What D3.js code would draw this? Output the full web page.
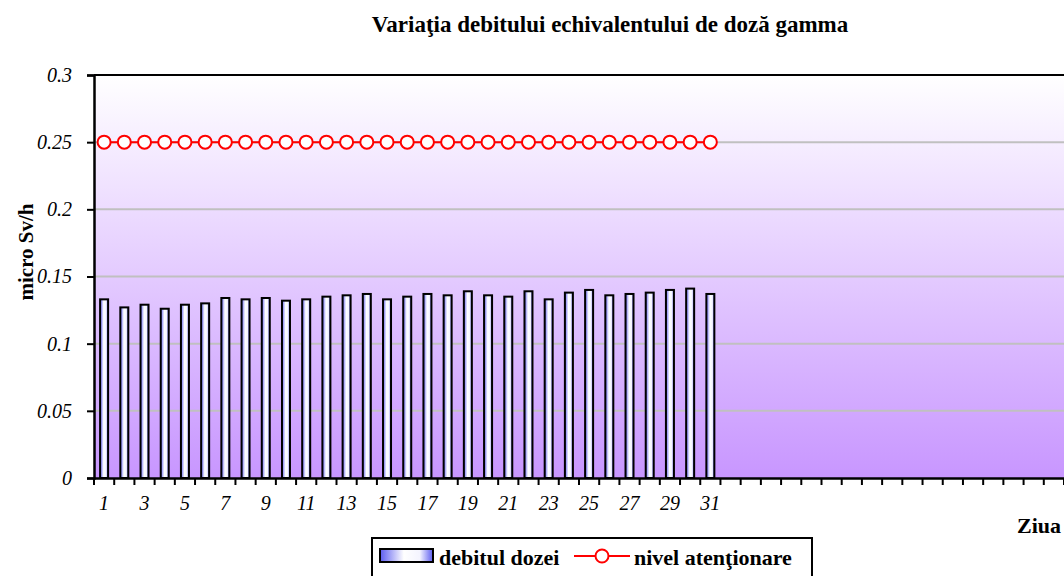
<!DOCTYPE html>
<html>
<head>
<meta charset="utf-8">
<script src="https://d3js.org/d3.v7.min.js"></script>
<style>
  html, body { margin: 0; padding: 0; background: #fff; }
  svg { display: block; font-family: "Liberation Serif", "Times New Roman", serif; }
</style>
</head>
<body>
<div id="chart"></div>
<script>
// zilele lunii (axa are 48 de categorii, doar primele 31 au date)
const days = d3.range(1, 49);
const doseDays = d3.range(1, 32);
const doseRate = [0.133, 0.127, 0.129, 0.126, 0.129, 0.130, 0.134, 0.133, 0.134, 0.132,
                  0.133, 0.135, 0.136, 0.137, 0.133, 0.135, 0.137, 0.136, 0.139, 0.136,
                  0.135, 0.139, 0.133, 0.138, 0.140, 0.136, 0.137, 0.138, 0.140, 0.141, 0.137];
const alertLevel = doseDays.map(() => 0.25);
const yTicks = [0, 0.05, 0.1, 0.15, 0.2, 0.25, 0.3];
const xLabels = d3.range(1, 32, 2);

const W = 1064, H = 576;
const margin = {top: 75, right: 0, bottom: 98, left: 94};
const width = W - margin.left - margin.right;
const height = H - margin.top - margin.bottom;
const serif = "'Liberation Serif', 'Times New Roman', serif";

const svg = d3.select("#chart").append("svg")
    .attr("width", W).attr("height", H);

const defs = svg.append("defs");
const bg = defs.append("linearGradient").attr("id", "bg")
    .attr("x1", 0).attr("y1", 0).attr("x2", 0).attr("y2", 1);
bg.append("stop").attr("offset", "0%").attr("stop-color", "#ffffff");
bg.append("stop").attr("offset", "100%").attr("stop-color", "#c896ff");

const barGrad = defs.append("linearGradient").attr("id", "barGrad")
    .attr("x1", 0).attr("y1", 0).attr("x2", 1).attr("y2", 0);
barGrad.append("stop").attr("offset", "0%").attr("stop-color", "#5c5cf0");
barGrad.append("stop").attr("offset", "45%").attr("stop-color", "#ffffff");
barGrad.append("stop").attr("offset", "75%").attr("stop-color", "#f4f4ff");
barGrad.append("stop").attr("offset", "100%").attr("stop-color", "#5c5cf0");

const g = svg.append("g").attr("transform", `translate(${margin.left},${margin.top})`);

const x = d3.scaleBand().domain(days).range([0, width]).padding(0);
const y = d3.scaleLinear().domain([0, 0.3]).range([height, 0]);

// fundal
g.append("rect").attr("width", width).attr("height", height).attr("fill", "url(#bg)");

// linii de grilă
g.selectAll(".grid").data(yTicks.filter(d => d > 0 && d < 0.3)).enter()
    .append("line")
    .attr("x1", 0).attr("x2", width)
    .attr("y1", d => y(d)).attr("y2", d => y(d))
    .attr("stroke", "#c0c0c0").attr("stroke-width", 2);

// bare
const bw = 8;
g.selectAll(".bar").data(doseRate).enter()
    .append("rect")
    .attr("x", (d, i) => x(doseDays[i]) + x.bandwidth() / 2 - bw / 2)
    .attr("y", d => y(d))
    .attr("width", bw)
    .attr("height", d => height - y(d))
    .attr("fill", "url(#barGrad)")
    .attr("stroke", "#000").attr("stroke-width", 2);

// nivel de atenţionare
const line = d3.line()
    .x((d, i) => x(doseDays[i]) + x.bandwidth() / 2)
    .y(d => y(d));
g.append("path").datum(alertLevel)
    .attr("d", line).attr("fill", "none")
    .attr("stroke", "#ff0000").attr("stroke-width", 2);
g.selectAll(".dot").data(alertLevel).enter()
    .append("circle")
    .attr("cx", (d, i) => x(doseDays[i]) + x.bandwidth() / 2)
    .attr("cy", d => y(d))
    .attr("r", 6.5)
    .attr("fill", "#fff").attr("stroke", "#ff0000").attr("stroke-width", 2);

// chenar sus
g.append("line").attr("x1", 0).attr("x2", width).attr("y1", 0).attr("y2", 0)
    .attr("stroke", "#000").attr("stroke-width", 2);

// axa Y
const yAxis = g.append("g")
    .call(d3.axisLeft(y).tickValues(yTicks).tickSize(7).tickFormat(d => d === 0 ? "0" : d3.format("")(d)));
yAxis.select(".domain").attr("stroke-width", 2.5);
yAxis.selectAll(".tick line").attr("stroke-width", 2);
yAxis.selectAll("text")
    .attr("x", -22)
    .style("font-family", serif)
    .style("font-style", "italic").style("font-size", "20px").attr("fill", "#000");

// axa X
const xAxis = g.append("g").attr("transform", `translate(0,${height})`)
    .call(d3.axisBottom(x).tickSize(0).tickFormat(d => xLabels.includes(d) ? d : ""));
xAxis.select(".domain").attr("stroke-width", 2.5);
xAxis.selectAll(".tick line").remove();
xAxis.selectAll("text")
    .attr("dy", 0).attr("y", 32)
    .style("font-family", serif)
    .style("font-style", "italic").style("font-size", "20px").attr("fill", "#000");
// marcaje între categorii
g.selectAll(".xtick").data(days.concat([null])).enter()
    .append("line")
    .attr("x1", (d, i) => i * x.step()).attr("x2", (d, i) => i * x.step())
    .attr("y1", height).attr("y2", height + 7)
    .attr("stroke", "#000").attr("stroke-width", 2);

// titluri
svg.append("text").attr("x", 610).attr("y", 32)
    .attr("text-anchor", "middle")
    .style("font-family", serif)
    .style("font-weight", "bold").style("font-size", "23px")
    .text("Variaţia debitului echivalentului de doză gamma");

svg.append("text")
    .attr("transform", "translate(33,252) rotate(-90)")
    .attr("text-anchor", "middle")
    .style("font-family", serif)
    .style("font-weight", "bold").style("font-size", "21px")
    .text("micro Sv/h");

svg.append("text").attr("x", 1039).attr("y", 533)
    .attr("text-anchor", "middle")
    .style("font-family", serif)
    .style("font-weight", "bold").style("font-size", "22px")
    .text("Ziua");

// legendă
const lg = svg.append("g").style("font-family", serif);
lg.append("rect").attr("x", 372).attr("y", 538).attr("width", 440).attr("height", 44)
    .attr("fill", "#fff").attr("stroke", "#000").attr("stroke-width", 2);
lg.append("rect").attr("x", 380).attr("y", 549).attr("width", 53).attr("height", 13)
    .attr("fill", "url(#barGrad)").attr("stroke", "#000").attr("stroke-width", 2);
lg.append("text").attr("x", 439).attr("y", 565)
    .style("font-weight", "bold").style("font-size", "22px").text("debitul dozei");
lg.append("line").attr("x1", 574).attr("x2", 630).attr("y1", 556).attr("y2", 556)
    .attr("stroke", "#ff0000").attr("stroke-width", 2);
lg.append("circle").attr("cx", 602).attr("cy", 556).attr("r", 6.5)
    .attr("fill", "#fff").attr("stroke", "#ff0000").attr("stroke-width", 2);
lg.append("text").attr("x", 634).attr("y", 565)
    .style("font-weight", "bold").style("font-size", "22px").text("nivel atenţionare");
</script>
</body>
</html>
